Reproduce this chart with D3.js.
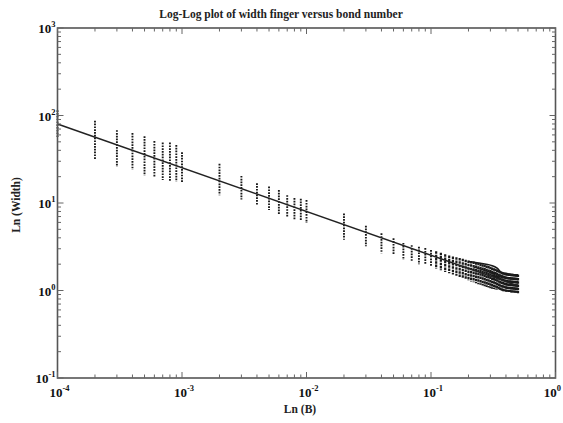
<!DOCTYPE html>
<html><head><meta charset="utf-8">
<script src="https://cdn.jsdelivr.net/npm/d3@7"></script>
<style>body{margin:0;background:#fff}svg{display:block}</style>
</head><body>
<script>
// ---- data ----
const bondNumbers = [1e-4,2e-4,3e-4,4e-4,5e-4,6e-4,7e-4,8e-4,9e-4,
  1e-3,2e-3,3e-3,4e-3,5e-3,6e-3,7e-3,8e-3,9e-3,
  1e-2,2e-2,3e-2,4e-2,5e-2,6e-2,7e-2,8e-2,9e-2,
  0.10,0.11,0.12,0.13,0.14,0.15,0.16,0.17,0.18,0.19,
  0.20,0.21,0.22,0.23,0.24,0.25,0.26,0.27,0.28,0.29,
  0.30,0.31,0.32,0.33,0.34,0.35,0.36,0.37,0.38,0.39,
  0.40,0.41,0.42,0.43,0.44,0.45,0.46,0.47,0.48,0.49,0.50];
const widthMax = [115,87,68,63,58,51,49,49,46,
  38,28,20.4,16.8,15.4,14.1,12.3,11.4,11.2,
  10.8,7.6,5.5,4.5,3.95,3.5,3.3,3.16,3.05,
  2.9,2.8,2.7,2.6,2.52,2.45,2.4,2.35,2.3,2.25,
  2.2,2.17,2.14,2.1,2.07,2.04,2.0,1.97,1.93,1.9,
  1.87,1.83,1.8,1.77,1.74,1.7,1.67,1.64,1.62,1.6,
  1.58,1.57,1.56,1.56,1.55,1.55,1.54,1.54,1.53,1.53,1.52];
const widthMin = [55,31.5,26,24,20.5,19.7,18.3,17.5,17.5,
  17,12.3,11,9.5,8.3,7.3,6.9,6.4,6.4,
  5.9,3.8,3.2,2.66,2.55,2.23,2.15,2.0,1.95,
  1.87,1.78,1.7,1.63,1.57,1.52,1.47,1.42,1.38,1.34,
  1.3,1.27,1.24,1.21,1.18,1.16,1.14,1.12,1.1,1.08,
  1.06,1.05,1.04,1.03,1.02,1.01,1.0,0.99,0.98,0.98,
  0.97,0.97,0.96,0.96,0.95,0.95,0.95,0.94,0.94,0.94,0.93];
const tailUpperB = [0.20,0.25,0.30,0.34,0.37,0.40,0.45,0.50];
const tailUpperW = [2.15,2.05,1.95,1.8,1.6,1.57,1.52,1.5];
const tailMidB = [0.22,0.26,0.30,0.35,0.40,0.45,0.50];
const tailMidW = [1.85,1.72,1.6,1.45,1.38,1.36,1.35];
const fitB = [1e-4, 0.5];
const fitW = [80, 1.13];
const xTickExps = [-4,-3,-2,-1,0];
const yTickExps = [-1,0,1,2,3];

// ---- layout ----
const W = 563, H = 423;
const L = 57.5, R = 555.5, T = 28, B = 378;
const svg = d3.select("body").append("svg").attr("width", W).attr("height", H);
const x = d3.scaleLog().domain([1e-4, 1]).range([L, R]);
const y = d3.scaleLog().domain([0.1, 1000]).range([B, T]);
const font = "'Liberation Serif','Times New Roman',serif";

// clusters
const g = svg.append("g");
g.selectAll("line.cl").data(bondNumbers).join("line").attr("class","cl")
  .attr("x1", d => x(d)).attr("x2", d => x(d))
  .attr("y1", (d,i) => y(widthMax[i])).attr("y2", (d,i) => y(widthMin[i]))
  .attr("stroke", "#1a1a1a").attr("stroke-width", (d) => d > 0.105 ? 2.2 : 1.9)
  .attr("stroke-dasharray", d => d > 0.105 ? "2.5,0.8" : "1.7,1.1");

// tail curves
const lineGen = d3.line().x(d => x(d[0])).y(d => y(d[1])).curve(d3.curveMonotoneX);
[[tailUpperB, tailUpperW],[tailMidB, tailMidW]].forEach(([bs, ws]) => {
  g.append("path").attr("d", lineGen(bs.map((b,i)=>[b, ws[i]])))
    .attr("fill","none").attr("stroke","#1a1a1a").attr("stroke-width",1.5);
});

// fit line
g.append("path").attr("d", d3.line().x(d=>x(d[0])).y(d=>y(d[1]))(fitB.map((b,i)=>[b, fitW[i]])))
  .attr("fill","none").attr("stroke","#222").attr("stroke-width",1.5);

// frame
svg.append("rect").attr("x", L).attr("y", T).attr("width", R-L).attr("height", B-T)
  .attr("fill","none").attr("stroke","#555").attr("stroke-width",1.6);

// ticks
const tickCol = "#666";
const xt = x.ticks();
const yt = y.ticks();
const isMajor = v => Math.abs(Math.log10(v) - Math.round(Math.log10(v))) < 1e-9;
const tg = svg.append("g").attr("stroke", tickCol).attr("stroke-width", 1);
xt.forEach(v => {
  const len = isMajor(v) ? 6 : 3.5, px = x(v);
  tg.append("line").attr("x1",px).attr("x2",px).attr("y1",B).attr("y2",B-len);
  tg.append("line").attr("x1",px).attr("x2",px).attr("y1",T).attr("y2",T+len);
});
yt.forEach(v => {
  const len = isMajor(v) ? 6 : 3.5, py = y(v);
  tg.append("line").attr("y1",py).attr("y2",py).attr("x1",L).attr("x2",L+len);
  tg.append("line").attr("y1",py).attr("y2",py).attr("x1",R).attr("x2",R-len);
});

// tick labels
function powLabel(sel, e) {
  sel.append("tspan").text("10");
  sel.append("tspan").attr("dy", -6).attr("font-size", 8.5).text(String(e));
}
xTickExps.forEach((e, i) => {
  const last = i === xTickExps.length - 1;
  const t = svg.append("text").attr("x", last ? 561 : x(Math.pow(10,e)) + 2).attr("y", 397)
    .attr("text-anchor", last ? "end" : "middle").attr("font-family",font).attr("font-weight","bold")
    .attr("font-size",13).attr("fill","#111");
  powLabel(t, e);
});
yTickExps.forEach(e => {
  const t = svg.append("text").attr("x", L - 2).attr("y", y(Math.pow(10,e)) + 5)
    .attr("text-anchor","end").attr("font-family",font).attr("font-weight","bold")
    .attr("font-size",13).attr("fill","#111");
  powLabel(t, e);
});

// titles
svg.append("text").attr("x", 281).attr("y", 18).attr("text-anchor","middle")
  .attr("font-family",font).attr("font-weight","bold").attr("font-size",11.5)
  .attr("fill","#222").text("Log-Log plot of width finger versus bond number");
svg.append("text").attr("x", 300).attr("y", 413).attr("text-anchor","middle")
  .attr("font-family",font).attr("font-weight","bold").attr("font-size",11.5)
  .attr("fill","#222").text("Ln (B)");
svg.append("text").attr("transform","translate(20,205) rotate(-90)").attr("text-anchor","middle")
  .attr("font-family",font).attr("font-weight","bold").attr("font-size",11.5)
  .attr("fill","#222").text("Ln (Width)");
</script>
</body></html>
